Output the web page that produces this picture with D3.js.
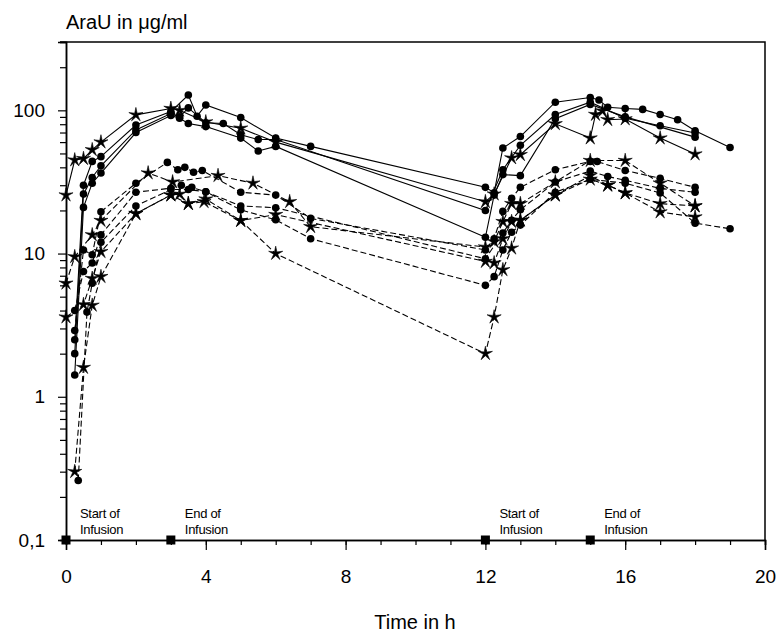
<!DOCTYPE html>
<html>
<head>
<meta charset="utf-8">
<script src="https://cdn.jsdelivr.net/npm/d3@7/dist/d3.min.js"></script>
<style>
  body { margin: 0; background: #fff; }
  svg { display: block; font-family: 'Liberation Sans', Arial, sans-serif; }
</style>
</head>
<body>
<div id="container"></div>
<script>
// Data: [time in h, AraU in µg/ml]
// solid lines (upper group)
const s1 = [[0.25, 2.5], [0.5, 30], [0.75, 44], [1, 47.5], [2, 79], [3, 98], [3.5, 128], [3.75, 91], [4, 109], [5, 89], [6, 64], [7, 56],
  [12, 29], [12.25, 26.6], [12.5, 54.6], [13, 65.6], [14, 114], [15, 123], [15.25, 118], [15.5, 105], [16, 103], [16.5, 101.5], [17, 93.5], [17.5, 86], [18, 72], [19, 55]];
const s2 = [[0, 25.6], [0.25, 45], [0.5, 46], [0.75, 53], [1, 60], [2, 93], [3, 103], [3.25, 100], [4, 83], [5, 75], [6, 60],
  [12, 23], [12.25, 26], [12.75, 46.5], [13, 49], [14, 80.5], [15, 64], [15.15, 93.5], [15.35, 99], [15.5, 86], [16, 87], [17, 64], [18, 49.5]];
const s3 = [[0.25, 2.0], [0.5, 26], [0.75, 34], [1, 41], [2, 73], [3, 95], [3.25, 90], [3.5, 104], [4, 82], [4.5, 81], [5, 67.5], [5.5, 62.5], [6, 62.5],
  [12, 20], [12.5, 38.5], [13, 57], [14, 93.5], [15, 114], [16, 88], [17, 78], [18, 69.5]];
const s4 = [[0.25, 1.42], [0.5, 21], [0.75, 31], [1, 36.5], [2, 70], [3, 92], [3.25, 88], [3.5, 81], [4, 77], [5, 64], [5.5, 52], [6, 56],
  [12, 13], [12.25, 25.6], [12.5, 35.6], [13, 35], [14, 87.5], [15, 110], [16, 90], [18, 65]];
// dashed lines (lower group)
const d1 = [[0.25, 2.9], [0.5, 10.6], [0.75, 9.8], [1, 19.6], [2, 31], [2.9, 43.3], [3.2, 38.5], [3.4, 40], [3.65, 37], [3.9, 38], [5, 26.8], [6, 25.6], [7, 17.6],
  [12, 10.6], [12.25, 12.7], [12.5, 19.7], [12.75, 24.3], [13, 29], [14, 38.5], [15, 44], [15.2, 43.9], [16, 38], [17, 33.5], [18, 29]];
const d2 = [[0, 6.2], [0.25, 9.5], [0.75, 13.5], [1, 17], [2.35, 36.5], [3.05, 31.6], [4.35, 35], [5.35, 31], [6.4, 23], [7, 15.4],
  [12, 11.1], [12.25, 12.1], [12.5, 16.7], [12.75, 22.3], [13, 22.3], [14, 31.6], [15, 44.6], [16, 44.6], [17, 31], [18, 21.5]];
const d3s = [[0.25, 4.0], [0.5, 7.5], [0.75, 8.6], [1, 13.5], [2, 26.8], [3, 28.6], [3.3, 30], [3.6, 29], [4, 27], [5, 21.5], [6, 20.9],
  [12, 9.2], [12.5, 13.9], [12.75, 17.1], [13, 20.2], [14, 31.6], [15, 37.7], [15.5, 34.5], [16, 32.5], [17, 28.5], [18, 26.8]];
const d4 = [[0, 3.6], [0.5, 4.4], [0.75, 6.7], [1, 10.3], [2, 19], [3, 25.6], [3.25, 26], [3.5, 22.3], [3.95, 23], [5, 17], [6, 18.7],
  [12, 8.8], [12.25, 8.6], [12.5, 12.7], [12.75, 16.7], [13, 17.1], [14, 25.6], [15, 35], [15.5, 30], [16, 26.5], [17, 22.3], [18, 21.5]];
const d5 = [[0.25, 0.3], [0.5, 1.6], [0.75, 4.35], [1, 6.9], [2, 19], [3, 25.6], [3.5, 22.3], [4, 24], [5, 17], [6, 10],
  [12, 2.0], [12.25, 3.6], [12.5, 7.7], [12.75, 10.9], [13, 17.1], [14, 25.6], [15, 33], [15.5, 30], [16, 26.5], [17, 19.5], [18, 18]];
const d6 = [[0.35, 0.26], [0.6, 3.9], [0.75, 6.2], [1, 12], [2, 21.5], [3, 28], [3.5, 28], [4, 27], [5, 20.2], [6, 17.2], [7, 12.7],
  [12, 6.0], [12.25, 6.9], [12.5, 10.6], [12.75, 14.1], [13, 15.8], [14, 26.8], [15, 33], [16, 31], [17, 26.5], [18, 16.3], [19, 14.9]];

const infusionTimes = [0, 3, 12, 15];
const infusionLabels = [['Start of', 'Infusion'], ['End of', 'Infusion'], ['Start of', 'Infusion'], ['End of', 'Infusion']];
const xTickLabels = [0, 4, 8, 12, 16, 20];
const yTickLabels = [[0.1, '0,1'], [1, '1'], [10, '10'], [100, '100']];

const series = [
  { data: s1, dashed: false, mark: 'circle' },
  { data: s2, dashed: false, mark: 'star' },
  { data: s3, dashed: false, mark: 'circle' },
  { data: s4, dashed: false, mark: 'circle' },
  { data: d1, dashed: true, mark: 'circle' },
  { data: d2, dashed: true, mark: 'star' },
  { data: d3s, dashed: true, mark: 'circle' },
  { data: d4, dashed: true, mark: 'star' },
  { data: d5, dashed: true, mark: 'star' },
  { data: d6, dashed: true, mark: 'circle' }
];

const svgWidth = 778;
const svgHeight = 633;
const plotLeft = 66, plotRight = 765, plotTop = 42, plotBottom = 540;

const svg = d3.select('#container').append('svg')
  .attr('width', svgWidth)
  .attr('height', svgHeight);

const xScale = d3.scaleLinear().domain([0, 20]).range([plotLeft, plotRight]);
const yScale = d3.scaleLog().domain([0.1, 300]).range([plotBottom, plotTop]);

// frame
svg.append('path')
  .attr('d', `M${plotLeft - 6},${plotTop}H${plotRight}V${plotBottom}`)
  .attr('fill', 'none')
  .attr('stroke', '#000')
  .attr('stroke-width', 1.5);

// x axis
const xMinor = d3.axisBottom(xScale).tickValues(d3.range(0, 21)).tickSize(5).tickFormat('');
const xMajor = d3.axisBottom(xScale).tickValues(xTickLabels).tickSize(10).tickPadding(20).tickFormat(d3.format('d'));
[xMinor, xMajor].forEach(ax => {
  const g = svg.append('g').attr('transform', `translate(0,${plotBottom})`).call(ax);
  g.select('.domain').attr('stroke-width', 1.5);
  g.selectAll('.tick line').attr('stroke-width', 1.2);
  g.selectAll('text').attr('font-size', 19).attr('fill', '#000').attr('font-family', 'Liberation Sans, Arial, sans-serif');
});

// y axis
const minorVals = [];
[0.1, 1, 10, 100].forEach(p => d3.range(2, 10).forEach(k => { if (p * k <= 300) minorVals.push(p * k); }));
const yMinor = d3.axisLeft(yScale).tickValues(minorVals).tickSize(6).tickFormat('');
const yMajor = d3.axisLeft(yScale).tickValues(yTickLabels.map(d => d[0])).tickSize(8).tickPadding(13)
  .tickFormat(v => yTickLabels.find(d => d[0] === v)[1]);
[yMinor, yMajor].forEach(ax => {
  const g = svg.append('g').attr('transform', `translate(${plotLeft},0)`).call(ax);
  g.select('.domain').attr('stroke-width', 1.5);
  g.selectAll('.tick line').attr('stroke-width', 1.2);
  g.selectAll('text').attr('font-size', 19).attr('fill', '#000').attr('font-family', 'Liberation Sans, Arial, sans-serif');
});

// titles
svg.append('text').attr('x', plotLeft).attr('y', 29).attr('font-size', 20).text('AraU in μg/ml');
svg.append('text').attr('x', 415).attr('y', 629).attr('text-anchor', 'middle').attr('font-size', 20).text('Time in h');

// lines
const line = d3.line().x(d => xScale(d[0])).y(d => yScale(d[1]));
series.forEach(s => {
  svg.append('path')
    .attr('d', line(s.data))
    .attr('fill', 'none')
    .attr('stroke', '#000')
    .attr('stroke-width', 1.1)
    .attr('stroke-dasharray', s.dashed ? '6,3' : null);
});

// markers
const thinStar = {
  draw(ctx, size) {
    const R = Math.sqrt(size);
    const r = R * 0.28;
    for (let i = 0; i < 10; i++) {
      const a = -Math.PI / 2 + i * Math.PI / 5;
      const rad = i % 2 ? r : R;
      if (i === 0) ctx.moveTo(rad * Math.cos(a), rad * Math.sin(a));
      else ctx.lineTo(rad * Math.cos(a), rad * Math.sin(a));
    }
    ctx.closePath();
  }
};
series.forEach(s => {
  if (s.mark === 'circle') {
    svg.append('g').selectAll('circle').data(s.data).enter().append('circle')
      .attr('cx', d => xScale(d[0]))
      .attr('cy', d => yScale(d[1]))
      .attr('r', 3.8)
      .attr('fill', '#000');
  } else {
    svg.append('g').selectAll('path').data(s.data).enter().append('path')
      .attr('transform', d => `translate(${xScale(d[0])},${yScale(d[1])})`)
      .attr('d', d3.symbol().type(thinStar).size(55))
      .attr('fill', '#000')
      .attr('stroke', '#000')
      .attr('stroke-width', 0.6);
  }
});

// infusion markers
svg.append('g').selectAll('rect').data(infusionTimes).enter().append('rect')
  .attr('x', d => xScale(d) - 4.5)
  .attr('y', yScale(0.1) - 4.5)
  .attr('width', 9)
  .attr('height', 9)
  .attr('fill', '#000');

const lbl = svg.append('g').selectAll('text').data(infusionTimes).enter().append('text')
  .attr('font-size', 13)
  .attr('letter-spacing', -0.3);
lbl.append('tspan').attr('x', d => xScale(d) + 14).attr('y', 518).text((d, i) => infusionLabels[i][0]);
lbl.append('tspan').attr('x', d => xScale(d) + 14).attr('y', 534).text((d, i) => infusionLabels[i][1]);
</script>
</body>
</html>
